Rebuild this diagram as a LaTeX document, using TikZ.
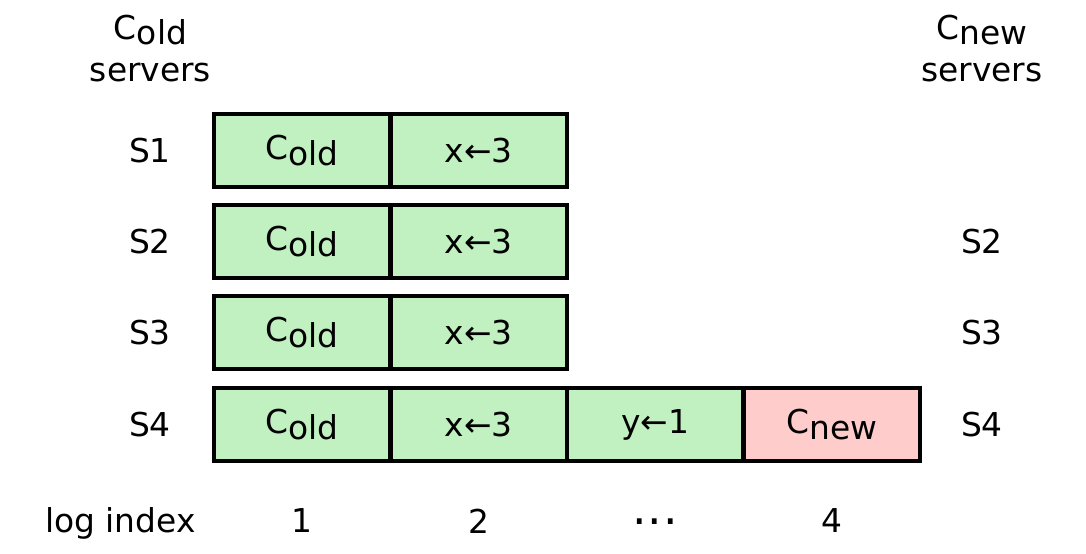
\documentclass[tikz,border=0pt]{standalone}
\usepackage{fontspec}
\setmainfont{DejaVu Sans}
\usepackage{tikz}

\definecolor{entrygreen}{RGB}{193,240,193}
\definecolor{entrypink}{RGB}{255,204,204}
\newcommand{\lowsub}[1]{\raisebox{-3.2pt}{#1}}

\begin{document}
\begin{tikzpicture}[x=0.02cm, y=-0.02cm, font=\fontsize{18.7pt}{24pt}\selectfont]
        \useasboundingbox (0,0) rectangle (1086,554);

        \begin{scope}[every node/.style={draw, line width=2.6pt, fill=entrygreen,
            minimum width=3.53cm, minimum height=1.46cm, inner sep=0pt}]
          \node (11) at (302.25,150.5) {C\lowsub{old}};
          \node (12) at (478.75,150.5) {x←3};
          \node (21) at (302.25,241.5) {C\lowsub{old}};
          \node (22) at (478.75,241.5) {x←3};
          \node (31) at (302.25,332.5) {C\lowsub{old}};
          \node (32) at (478.75,332.5) {x←3};
          \node (41) at (302.25,424.5) {C\lowsub{old}};
          \node (42) at (478.75,424.5) {x←3};
          \node (43) at (655.25,424.5) {y←1};
          \node[fill=entrypink] (44) at (831.75,424.5) {C\lowsub{new}};
        \end{scope}

        \begin{scope}[every node/.style={align=center}]
          \node (old) at (150.5,48.5) {C\lowsub{old}\\servers};
          \node (new) at (982,48.5)   {C\lowsub{new}\\servers};
          \node (s1)  at (150,150.5)  {S1};
          \node (s2)  at (150,241.5)  {S2};
          \node (s3)  at (150,332.5)  {S3};
          \node (s4)  at (150,424.5)  {S4};
          \node (n2)  at (982,241.5)  {S2};
          \node (n3)  at (982,332.5)  {S3};
          \node (n4)  at (982,424.5)  {S4};
          \node (idx) at (120.5,523)  {log index};
          \node (i1)  at (302.25,521) {1};
          \node (i2)  at (478.75,521) {2};
          \node[anchor=base, font=\fontsize{26pt}{26pt}\selectfont] (i3) at (655.25,537)
            {·\kern0.4pt·\kern0.4pt·};
          \node (i4)  at (831.75,521) {4};
        \end{scope}

      \end{tikzpicture}
\end{document}
